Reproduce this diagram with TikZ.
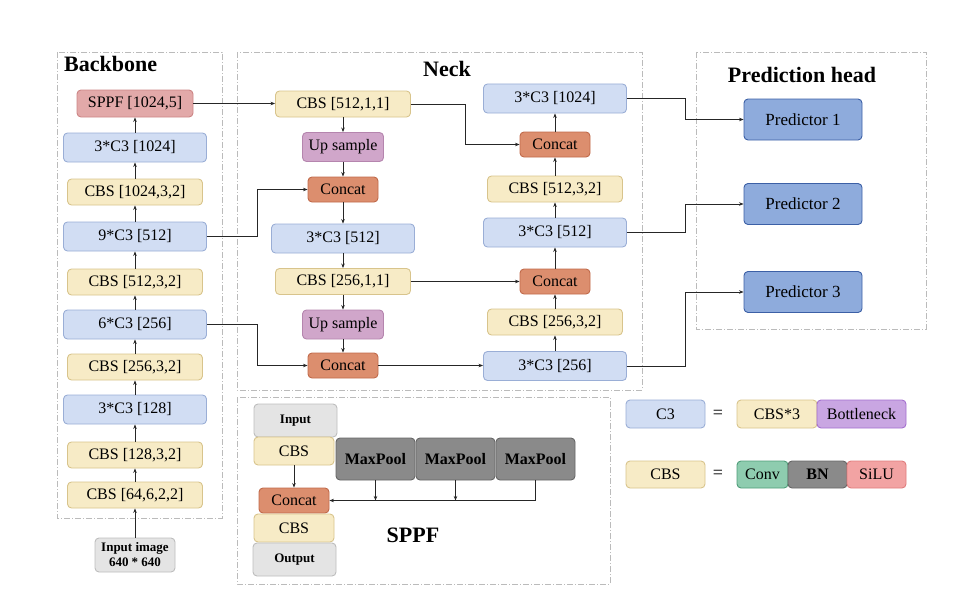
\documentclass[tikz,border=0pt]{standalone}
\usepackage{fontspec}
\setmainfont{Liberation Serif}
\usetikzlibrary{arrows.meta}
\definecolor{ybg}{HTML}{F7EBC6}\definecolor{ybd}{HTML}{D8C48C}
\definecolor{bbg}{HTML}{D1DDF3}\definecolor{bbd}{HTML}{9AAED6}
\definecolor{obg}{HTML}{DC8E6E}\definecolor{obd}{HTML}{C06A4A}
\definecolor{pbg}{HTML}{D0A6CA}\definecolor{pbd}{HTML}{B585AE}
\definecolor{rbg}{HTML}{E2A9A9}\definecolor{rbd}{HTML}{CC8585}
\definecolor{gbg}{HTML}{E4E4E4}\definecolor{gbd}{HTML}{BDBDBD}
\definecolor{dbg}{HTML}{8A8A8A}\definecolor{dbd}{HTML}{666666}
\definecolor{prbg}{HTML}{8EABDC}\definecolor{prbd}{HTML}{3C60A6}
\definecolor{vbg}{HTML}{C9A6E2}\definecolor{vbd}{HTML}{A46FCF}
\definecolor{cvbg}{HTML}{8ECCAF}\definecolor{cvbd}{HTML}{4F9D79}
\definecolor{sbg}{HTML}{F2A3A3}\definecolor{sbd}{HTML}{E07C7C}
\definecolor{framec}{HTML}{BBBBBB}
\tikzset{
  blk/.style={rounded corners=4pt, inner sep=0pt, line width=0.9pt, font=\fontsize{16}{19}\selectfont, align=center},
  cbs/.style={blk, fill=ybg, draw=ybd, minimum width=135pt, minimum height=26pt},
  cthree/.style={blk, fill=bbg, draw=bbd, minimum width=143pt, minimum height=29pt},
  concat/.style={blk, fill=obg, draw=obd, minimum width=70pt, minimum height=25pt},
  upsmp/.style={blk, fill=pbg, draw=pbd, minimum width=81pt, minimum height=29pt},
  sppfbox/.style={blk, fill=rbg, draw=rbd, minimum width=116pt, minimum height=27pt},
  iobox/.style={blk, fill=gbg, draw=gbd, minimum width=83pt, minimum height=33pt, font=\fontsize{13}{15}\selectfont\bfseries},
  maxp/.style={blk, fill=dbg, draw=dbd, minimum width=79pt, minimum height=42pt, font=\fontsize{16}{19}\selectfont\bfseries},
  pred/.style={blk, fill=prbg, draw=prbd, minimum width=118pt, minimum height=41pt, font=\fontsize{17}{20}\selectfont},
  frm/.style={draw=framec, line width=0.8pt, dash pattern=on 6pt off 2pt on 1pt off 2pt},
  ttl/.style={font=\fontsize{22}{26}\selectfont\bfseries, inner sep=0pt},
  arr/.style={draw=black!85, line width=0.7pt, -{Stealth[length=4.5pt,width=3.5pt]}},
  ln/.style={draw=black!85, line width=0.7pt},
}
\begin{document}
\begin{tikzpicture}[x=1pt,y=-1pt]
\useasboundingbox (0,0) rectangle (980,610);
% frames
\draw[frm] (57,52) rectangle (222,518);
\draw[frm] (237,52) rectangle (642,390);
\draw[frm] (696,52) rectangle (926,329);
\draw[frm] (237,397) rectangle (610,584);
% titles
\node[ttl, anchor=west] (tb) at (64,64) {Backbone};
\node[ttl] (tn) at (447,69) {Neck};
\node[ttl] (tp) at (802,75) {Prediction head};
\node[ttl] (ts) at (413,535) {SPPF};
% backbone
\node[sppfbox] (sppf) at (135,103.5) {SPPF [1024,5]};
\node[cthree] (bb1) at (135,147.5) {3*C3 [1024]};
\node[cbs] (bb2) at (135,192) {CBS [1024,3,2]};
\node[cthree] (bb3) at (135,236.5) {9*C3 [512]};
\node[cbs] (bb4) at (135,282) {CBS [512,3,2]};
\node[cthree] (bb5) at (135,324.5) {6*C3 [256]};
\node[cbs] (bb6) at (135,367) {CBS [256,3,2]};
\node[cthree] (bb7) at (135,409.5) {3*C3 [128]};
\node[cbs] (bb8) at (135,455) {CBS [128,3,2]};
\node[cbs] (bb9) at (135,495) {CBS [64,6,2,2]};
\node[iobox, minimum width=80pt, minimum height=34pt, align=center, font=\fontsize{13}{15}\selectfont\bfseries] (inp) at (135,555) {Input image\\640 * 640};
% neck left
\node[cbs] (n1) at (343,104) {CBS [512,1,1]};
\node[upsmp] (up1) at (343,147) {Up sample};
\node[concat] (cat1) at (343,189.5) {Concat};
\node[cthree] (n2) at (343,238.5) {3*C3 [512]};
\node[cbs] (n3) at (343,281.5) {CBS [256,1,1]};
\node[upsmp] (up2) at (343,324.5) {Up sample};
\node[concat] (cat2) at (343,365.5) {Concat};
% neck right
\node[cthree] (r1) at (555,98.5) {3*C3 [1024]};
\node[concat] (rc1) at (555,144.5) {Concat};
\node[cbs] (r2) at (555,189) {CBS [512,3,2]};
\node[cthree] (r3) at (555,232.5) {3*C3 [512]};
\node[concat] (rc2) at (555,281.5) {Concat};
\node[cbs] (r4) at (555,322) {CBS [256,3,2]};
\node[cthree] (r5) at (555,366) {3*C3 [256]};
% predictors
\node[pred] (p1) at (803,119.5) {Predictor 1};
\node[pred] (p2) at (803,204) {Predictor 2};
\node[pred] (p3) at (803,292) {Predictor 3};
% SPPF detail
\node[iobox] (sin) at (295.5,420.5) {Input};
\node[cbs, minimum width=80pt, minimum height=28pt] (sc1) at (294,451) {CBS};
\node[maxp] (mp1) at (375.5,459) {MaxPool};
\node[maxp] (mp2) at (455.5,459) {MaxPool};
\node[maxp] (mp3) at (535.5,459) {MaxPool};
\node[concat] (scat) at (294,500.5) {Concat};
\node[cbs, minimum width=80pt, minimum height=28pt] (sc2) at (294,528) {CBS};
\node[iobox] (sout) at (294.5,559.5) {Output};
% legend
\node[cthree, minimum width=79pt, minimum height=28pt] (lc3) at (665.5,414) {C3};
\node[font=\fontsize{18}{20}\selectfont] (eq1) at (718,414) {=};
\node[cbs, minimum width=80pt, minimum height=28pt] (lcbs3) at (777,414) {CBS*3};
\node[blk, fill=vbg, draw=vbd, minimum width=89pt, minimum height=28pt] (lbot) at (861.5,414) {Bottleneck};
\node[cbs, minimum width=79pt, minimum height=27pt] (lcbs) at (665.5,474.5) {CBS};
\node[font=\fontsize{18}{20}\selectfont] (eq2) at (718,474.5) {=};
\node[blk, fill=cvbg, draw=cvbd, minimum width=51pt, minimum height=27pt] (lconv) at (762.5,474.5) {Conv};
\node[blk, fill=dbg, draw=dbd, minimum width=59pt, minimum height=27pt, font=\fontsize{16}{19}\selectfont\bfseries] (lbn) at (817.5,474.5) {BN};
\node[blk, fill=sbg, draw=sbd, minimum width=59pt, minimum height=27pt] (lsilu) at (876.5,474.5) {SiLU};
% junction columns
\coordinate (j1) at (465,0);
\coordinate (j2) at (257,0);
\coordinate (j3) at (685,0);
% backbone arrows
\draw[arr] (inp.north) -- (bb9.south);
\draw[arr] (bb9.north) -- (bb8.south);
\draw[arr] (bb8.north) -- (bb7.south);
\draw[arr] (bb7.north) -- (bb6.south);
\draw[arr] (bb6.north) -- (bb5.south);
\draw[arr] (bb5.north) -- (bb4.south);
\draw[arr] (bb4.north) -- (bb3.south);
\draw[arr] (bb3.north) -- (bb2.south);
\draw[arr] (bb2.north) -- (bb1.south);
\draw[arr] (bb1.north) -- (sppf.south);
% backbone to neck
\draw[arr] (sppf.east) -- (sppf.east -| n1.west);
\draw[arr] (bb3.east) -- (bb3.east -| j2) |- (cat1.west);
\draw[arr] (bb5.east) -- (bb5.east -| j2) |- (cat2.west);
% neck left
\draw[arr] (n1.south) -- (up1.north);
\draw[arr] (up1.south) -- (cat1.north);
\draw[arr] (cat1.south) -- (n2.north);
\draw[arr] (n2.south) -- (n3.north);
\draw[arr] (n3.south) -- (up2.north);
\draw[arr] (up2.south) -- (cat2.north);
% cross
\draw[arr] (n1.east) -- (n1.east -| j1) |- (rc1.west);
\draw[arr] (n3.east) -- (rc2.west);
\draw[arr] (cat2.east) -- (cat2.east -| r5.west);
% neck right
\draw[arr] (r5.north) -- (r4.south);
\draw[arr] (r4.north) -- (rc2.south);
\draw[arr] (rc2.north) -- (r3.south);
\draw[arr] (r3.north) -- (r2.south);
\draw[arr] (r2.north) -- (rc1.south);
\draw[arr] (rc1.north) -- (r1.south);
% predictors
\draw[arr] (r1.east) -- (r1.east -| j3) |- (p1.west);
\draw[arr] (r3.east) -- (r3.east -| j3) |- (p2.west);
\draw[arr] (r5.east) -- (r5.east -| j3) |- (p3.west);
% SPPF
\draw[arr] (sc1.south) -- (scat.north);
\draw[arr] (mp3.south) |- (scat.east);
\draw[arr] (mp1.south) -- (mp1.south |- scat.east);
\draw[arr] (mp2.south) -- (mp2.south |- scat.east);
\end{tikzpicture}
\end{document}
